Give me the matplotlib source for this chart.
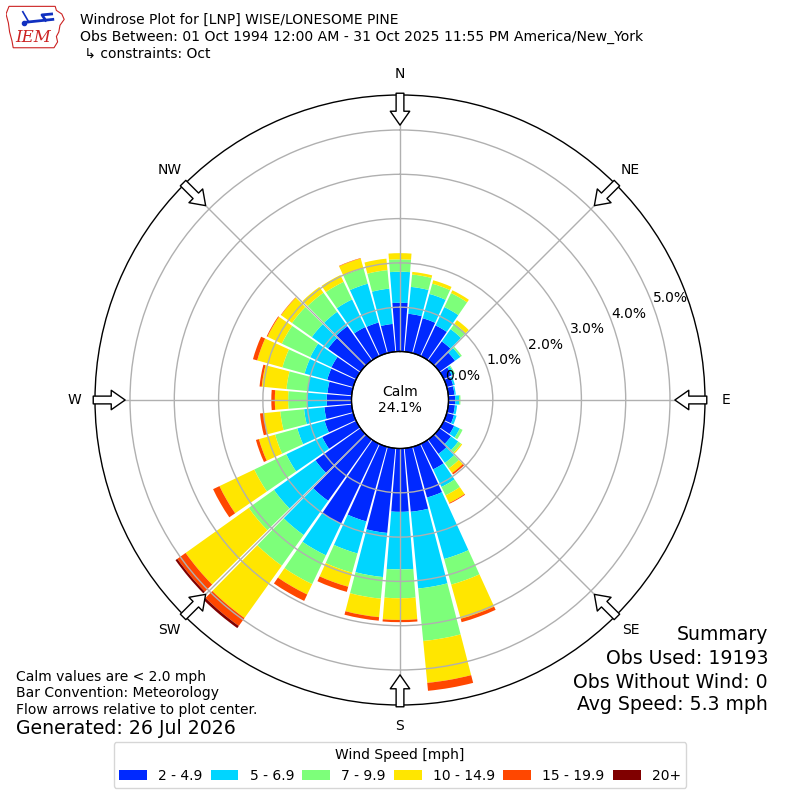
import numpy as np
import matplotlib
matplotlib.use("Agg")
import matplotlib.pyplot as plt
from matplotlib.patches import Patch, Polygon

# wind directions (deg, meteorological) and speed bins
directions = np.arange(0, 360, 10)
speed_labels = ["2 - 4.9", "5 - 6.9", "7 - 9.9", "10 - 14.9", "15 - 19.9", "20+"]

# percent of obs in each direction / speed bin
pct_2_5 = [1.10, 0.86, 0.82, 0.77, 0.53, 0.43, 0.20, 0.15, 0.14, 0.15, 0.15, 0.17,
           0.26, 0.32, 0.40, 0.64, 1.19, 1.44, 1.43, 1.92, 1.75, 2.00, 1.70, 1.25,
           0.85, 0.67, 0.62, 0.56, 0.55, 0.61, 0.62, 0.90, 0.95, 0.73, 0.72, 0.63]
pct_5_7 = [0.70, 0.61, 0.57, 0.46, 0.34, 0.15, 0.06, 0.04, 0.03, 0.09, 0.05, 0.06,
           0.14, 0.20, 0.25, 0.44, 1.44, 1.74, 1.30, 1.00, 0.75, 0.79, 0.95, 1.15,
           0.90, 0.64, 0.46, 0.45, 0.45, 0.53, 0.53, 0.45, 0.40, 0.69, 0.91, 0.80]
pct_7_10 = [0.28, 0.28, 0.24, 0.35, 0.15, 0.04, 0.02, 0.00, 0.00, 0.03, 0.00, 0.00,
            0.07, 0.08, 0.15, 0.21, 0.60, 1.19, 0.65, 0.49, 0.45, 0.72, 0.85, 0.70,
            0.80, 0.52, 0.54, 0.42, 0.48, 0.52, 0.71, 0.55, 0.53, 0.44, 0.36, 0.42]
pct_10_15 = [0.14, 0.06, 0.08, 0.07, 0.10, 0.00, 0.00, 0.00, 0.00, 0.00, 0.00, 0.00,
             0.00, 0.03, 0.13, 0.19, 0.80, 0.95, 0.49, 0.42, 0.33, 0.26, 1.45, 1.75,
             0.87, 0.38, 0.38, 0.30, 0.56, 0.59, 0.36, 0.30, 0.16, 0.17, 0.23, 0.26]
pct_15_20 = [0.00, 0.00, 0.00, 0.00, 0.00, 0.00, 0.00, 0.00, 0.00, 0.00, 0.00, 0.00,
             0.00, 0.00, 0.04, 0.02, 0.08, 0.18, 0.05, 0.08, 0.12, 0.16, 0.22, 0.23,
             0.16, 0.07, 0.08, 0.08, 0.05, 0.10, 0.02, 0.01, 0.00, 0.00, 0.01, 0.00]
pct_20 = [0.00] * 22 + [0.06, 0.05] + [0.00] * 12

calm_pct = 24.1
compass = ["N", "NE", "E", "SE", "S", "SW", "W", "NW"]

colors = plt.cm.jet(np.linspace(0, 1, 7))[1:]

fig = plt.figure(figsize=(8, 8), dpi=100)
ax = fig.add_axes([95 / 800, 95 / 800, 610 / 800, 610 / 800], projection="polar")
ax.set_theta_zero_location("N")
ax.set_theta_direction(-1)
r0 = 1.095
rmax = 5.79
ax.set_rorigin(-r0)
ax.set_ylim(0, rmax)

theta = np.deg2rad(directions)
bottom = np.zeros(len(directions))
for vals, c in zip([pct_2_5, pct_5_7, pct_7_10, pct_10_15, pct_15_20, pct_20], colors):
    vals = np.array(vals)
    ax.bar(theta, vals, width=np.deg2rad(9), bottom=bottom, color=c, linewidth=0, zorder=1)
    bottom += vals

ax.set_xticks(np.deg2rad(np.arange(0, 360, 45)))
ax.set_xticklabels([])
ax.set_yticks([1, 2, 3, 4, 5])
ax.set_yticklabels([])
ax.grid(True, color="#b0b0b0", lw=1, ls="-")
ax.spines["polar"].set_linewidth(1)

# calm circle
th = np.linspace(0, 2 * np.pi, 361)
ax.plot(th, np.zeros_like(th), color="black", lw=1, clip_on=False, zorder=3)
fig.text(0.5, 0.5, "Calm\n%.1f%%" % calm_pct, ha="center", va="center", fontsize=10)

# radial labels
for k in range(6):
    ax.text(np.deg2rad(69.5), k, "%.1f%%" % k, ha="left", va="bottom", fontsize=10, zorder=4)

# compass labels and flow arrows
for i, lab in enumerate(compass):
    a = np.deg2rad(i * 45)
    ax.text(a, rmax + 0.47, lab, ha="center", va="center", fontsize=10, clip_on=False)
    ax.annotate("", xy=(a, rmax - 0.68), xytext=(a, rmax + 0.04),
                arrowprops=dict(arrowstyle="simple,head_length=0.5,head_width=0.7,tail_width=0.28",
                                fc="white", ec="black", lw=1, shrinkA=0, shrinkB=0,
                                mutation_scale=20),
                annotation_clip=False, zorder=5)

# header
fig.text(80 / 800, 1 - 20 / 800, "Windrose Plot for [LNP] WISE/LONESOME PINE", fontsize=10, va="center")
fig.text(80 / 800, 1 - 37 / 800,
         "Obs Between: 01 Oct 1994 12:00 AM - 31 Oct 2025 11:55 PM America/New_York",
         fontsize=10.1, va="center")
fig.text(80 / 800, 1 - 54 / 800, " \u21b3 constraints: Oct", fontsize=10, va="center")

# logo (rough)
lax = fig.add_axes([6 / 800, 1 - 50 / 800, 60 / 800, 45 / 800])
lax.axis("off")
lax.set_xlim(0, 1)
lax.set_ylim(0, 1)
outline = [(0.05, 0.97), (0.82, 0.97), (0.84, 0.88), (0.93, 0.8), (0.97, 0.68), (0.9, 0.55),
           (0.88, 0.4), (0.84, 0.3), (0.86, 0.18), (0.8, 0.05), (0.12, 0.05), (0.1, 0.2),
           (0.06, 0.4), (0.04, 0.6), (0.0, 0.8)]
lax.add_patch(Polygon(outline, closed=True, fill=False, ec="#cc2222", lw=0.8))
lax.plot([0.35, 0.78], [0.62, 0.68], color="#1030c0", lw=2)
lax.plot([0.38, 0.28], [0.62, 0.85], color="#1030c0", lw=1.2)
lax.plot([0.66, 0.6, 0.76], [0.66, 0.78, 0.8], color="#1030c0", lw=2)
lax.plot([0.3], [0.6], "o", color="#1030c0", ms=3)
lax.text(0.45, 0.27, "IEM", color="#cc2222", fontsize=12, style="italic",
         family="DejaVu Serif", ha="center", va="center")

# footer text
fig.text(16 / 800, 1 - 677 / 800, "Calm values are < 2.0 mph", fontsize=10, va="center")
fig.text(16 / 800, 1 - 693 / 800, "Bar Convention: Meteorology", fontsize=10, va="center")
fig.text(16 / 800, 1 - 710 / 800, "Flow arrows relative to plot center.", fontsize=10, va="center")
fig.text(16 / 800, 1 - 729 / 800, "Generated: 26 Jul 2026", fontsize=13.6, va="center")

summary = ["Summary", "Obs Used: 19193", "Obs Without Wind: 0", "Avg Speed: 5.3 mph"]
for y, s in zip([635, 659, 682, 705], summary):
    fig.text(768 / 800, 1 - y / 800, s, fontsize=13.6, ha="right", va="center")

handles = [Patch(facecolor=c) for c in colors]
fig.legend(handles, speed_labels, loc="lower center", bbox_to_anchor=(0.5, 0.006), ncol=6,
           title="Wind Speed [mph]", fontsize=10, title_fontsize=10, columnspacing=0.6)

fig.savefig("out.png", dpi=100)
